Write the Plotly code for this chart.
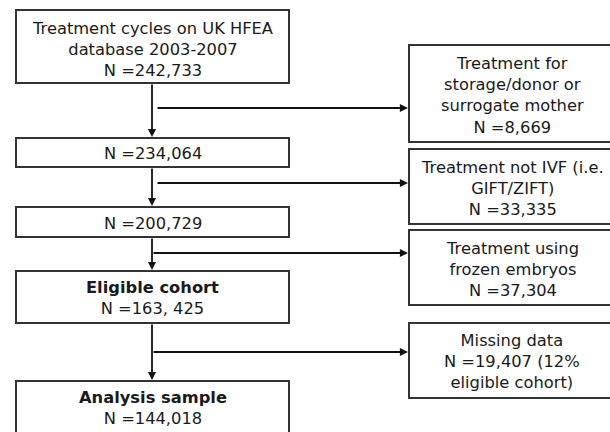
import plotly.graph_objects as go

# ---- data ----
main_labels = ["Treatment cycles on UK HFEA<br>database 2003-2007", "", "", "<b>Eligible cohort</b>", "<b>Analysis sample</b>"]
main_counts = ["242,733", "234,064", "200,729", "163, 425", "144,018"]
excl_labels = ["Treatment for<br>storage/donor or<br>surrogate mother", "Treatment not IVF (i.e.<br>GIFT/ZIFT)",
               "Treatment using<br>frozen embryos", "Missing data"]
excl_counts = ["8,669", "33,335", "37,304", "19,407 (12%<br>eligible cohort)"]

# ---- geometry (pixels in a 610x432 frame) ----
main_boxes = [(16, 289, 10, 83), (16, 289, 138, 167), (16, 289, 207, 237), (16, 289, 271, 323), (16, 289, 381, 445)]
excl_boxes = [(409, 616, 45, 142), (409, 616, 149, 224), (409, 616, 230, 305), (409, 616, 323, 398)]
main_text_y = [49, 153, 223, 298, 408]
excl_text_y = [95, 188, 269, 361]
spine_x = 152
branch_y = [108, 183, 253, 352]
branch_x0 = [156, 156, 152, 152]

FONT = dict(family="DejaVu Sans", size=16.3, color="#1a1a1a")
BORDER = dict(color="#333", width=2)

fig = go.Figure()
shapes = []
annotations = []

for i, (x0, x1, y0, y1) in enumerate(main_boxes):
    shapes.append(dict(type="rect", xref="x", yref="y", x0=x0, x1=x1, y0=y0, y1=y1, line=BORDER))
    lbl = main_labels[i]
    txt = (lbl + "<br>" if lbl else "") + "N =" + main_counts[i]
    annotations.append(dict(x=(x0 + x1) / 2, y=main_text_y[i], xref="x", yref="y", text=txt, showarrow=False,
                            font=FONT, align="center", xanchor="center", yanchor="middle"))

for i, (x0, x1, y0, y1) in enumerate(excl_boxes):
    shapes.append(dict(type="rect", xref="x", yref="y", x0=x0, x1=x1, y0=y0, y1=y1, line=BORDER))
    txt = excl_labels[i] + "<br>N =" + excl_counts[i]
    annotations.append(dict(x=512, y=excl_text_y[i], xref="x", yref="y", text=txt, showarrow=False,
                            font=FONT, align="center", xanchor="center", yanchor="middle"))

ARROW = dict(showarrow=True, arrowhead=2, arrowsize=0.9, arrowwidth=1.8, arrowcolor="#111",
             xref="x", yref="y", axref="x", ayref="y", text="", standoff=0)

# vertical arrows between main boxes
for a, b in zip(main_boxes[:-1], main_boxes[1:]):
    annotations.append(dict(ARROW, x=spine_x, y=b[2] - 1, ax=spine_x, ay=a[3]))

# horizontal branch arrows to exclusion boxes
for i, y in enumerate(branch_y):
    annotations.append(dict(ARROW, x=excl_boxes[i][0] - 1, y=y, ax=branch_x0[i], ay=y))

fig.update_layout(
    width=610, height=432,
    margin=dict(l=0, r=0, t=0, b=0),
    paper_bgcolor="white", plot_bgcolor="white",
    xaxis=dict(range=[0, 610], visible=False, fixedrange=True),
    yaxis=dict(range=[432, 0], visible=False, fixedrange=True),
    shapes=shapes, annotations=annotations, showlegend=False,
)

# remove default page margin / scrollbars so the figure fills the window exactly
fig.write_html("out.html",
               config={"displayModeBar": False},
               post_script="document.body.style.margin='0';document.body.style.overflow='hidden';")
